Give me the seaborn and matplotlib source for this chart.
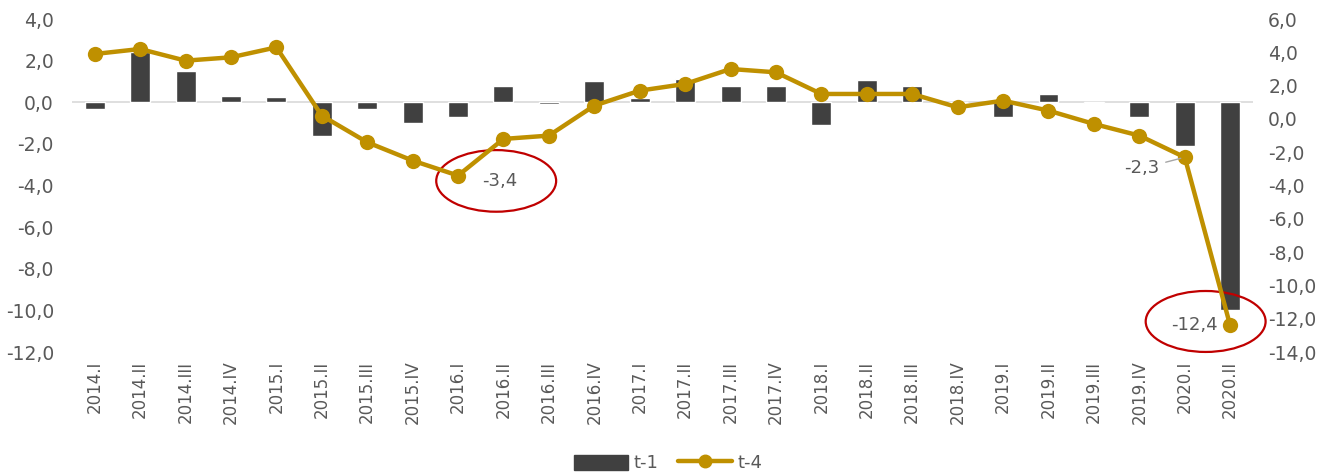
import numpy as np
import pandas as pd
import matplotlib
matplotlib.use("Agg")
import matplotlib.pyplot as plt
import seaborn as sns
from matplotlib.patches import Ellipse, Patch
from matplotlib.lines import Line2D

quarters = ["2014.I", "2014.II", "2014.III", "2014.IV",
            "2015.I", "2015.II", "2015.III", "2015.IV",
            "2016.I", "2016.II", "2016.III", "2016.IV",
            "2017.I", "2017.II", "2017.III", "2017.IV",
            "2018.I", "2018.II", "2018.III", "2018.IV",
            "2019.I", "2019.II", "2019.III", "2019.IV",
            "2020.I", "2020.II"]
t1 = [-0.3, 2.4, 1.5, 0.3, 0.25, -1.6, -0.3, -1.0, -0.7, 0.8, -0.1, 1.0,
      0.2, 1.1, 0.8, 0.8, -1.1, 1.05, 0.8, 0.03, -0.7, 0.4, -0.05, -0.7,
      -2.1, -10.0]
t4 = [3.9, 4.2, 3.5, 3.7, 4.3, 0.2, -1.4, -2.5, -3.4, -1.2, -1.0, 0.8,
      1.7, 2.1, 3.0, 2.8, 1.5, 1.5, 1.5, 0.7, 1.1, 0.5, -0.3, -1.0,
      -2.3, -12.4]
left_ticks = [4.0, 2.0, 0.0, -2.0, -4.0, -6.0, -8.0, -10.0, -12.0]
right_ticks = [6.0, 4.0, 2.0, 0.0, -2.0, -4.0, -6.0, -8.0, -10.0, -12.0, -14.0]
series_names = ["t-1", "t-4"]

BAR = "#404040"
GOLD = "#BF9000"
RED = "#C00000"
TXT = "#595959"

sns.set_theme(style="white")
plt.rcParams["font.family"] = ["DejaVu Sans"]

n = len(quarters)
df = pd.DataFrame({"q": quarters, "t1": t1, "t4": t4, "i": np.arange(n)})


def fmt(v):
    return f"{v:.1f}".replace(".", ",")


fig = plt.figure(figsize=(13.23, 4.72), dpi=100)
ax = fig.add_axes([0.0544, 0.254, 0.8926, 0.7057])
sns.barplot(data=df, x="q", y="t1", color=BAR, saturation=1, width=0.44, ax=ax)
ax.axhline(0, color="#D9D9D9", lw=1.2, zorder=0)
ax.set_ylim(-12, 4)
ax.set_yticks(left_ticks)
ax.set_yticklabels([fmt(v) for v in left_ticks])
ax.set_xlim(-0.5, n - 0.5)
ax.set_xlabel("")
ax.set_ylabel("")
ax.tick_params(axis="x", labelrotation=90, labelsize=12, colors=TXT, length=0, pad=6)
ax.tick_params(axis="y", labelsize=13.5, colors=TXT, length=0, pad=13)
for s in ax.spines.values():
    s.set_visible(False)
ax.grid(False)

ax2 = ax.twinx()
sns.lineplot(data=df, x="i", y="t4", color=GOLD, lw=3.2, marker="o", markersize=11,
             markeredgewidth=0, ax=ax2)
ax2.set_ylim(-14, 6)
ax2.set_yticks(right_ticks)
ax2.set_yticklabels([fmt(v) for v in right_ticks])
ax2.set_xlim(-0.5, n - 0.5)
ax2.set_xlabel("")
ax2.set_ylabel("")
ax2.tick_params(axis="y", labelsize=13.5, colors=TXT, length=0, pad=11)
for s in ax2.spines.values():
    s.set_visible(False)
ax2.grid(False)

i1 = quarters.index("2016.I")
ax2.annotate(fmt(t4[i1]), (i1, t4[i1]), xytext=(17, -4), textcoords="offset points",
             ha="left", va="center", fontsize=13, color=TXT)
ax2.add_patch(Ellipse((i1 + 0.84, t4[i1] - 0.32), 2.64, 3.7, fill=False,
                      edgecolor=RED, lw=1.6, clip_on=False))

i2 = quarters.index("2020.I")
ax2.annotate(fmt(t4[i2]), (i2, t4[i2]), xytext=(-18, -8), textcoords="offset points",
             ha="right", va="center", fontsize=13, color=TXT,
             arrowprops=dict(arrowstyle="-", color="#A6A6A6", lw=1, shrinkA=2, shrinkB=3))

i3 = quarters.index("2020.II")
ax2.annotate(fmt(t4[i3]), (i3, t4[i3]), xytext=(-9, 0), textcoords="offset points",
             ha="right", va="center", fontsize=13, color=TXT)
ax2.add_patch(Ellipse((i3 - 0.54, t4[i3] + 0.24), 2.64, 3.66, fill=False,
                      edgecolor=RED, lw=1.6, clip_on=False))

handles = [Patch(facecolor=BAR, edgecolor=BAR),
           Line2D([0], [0], color=GOLD, lw=3.2, marker="o", markersize=9)]
fig.legend(handles, series_names, loc="lower center", bbox_to_anchor=(0.505, -0.035),
           ncol=2, frameon=False, fontsize=13, labelcolor=TXT, handlelength=3.0,
           handleheight=0.9, columnspacing=1.1, handletextpad=0.3)

fig.savefig("out.png", dpi=100)
